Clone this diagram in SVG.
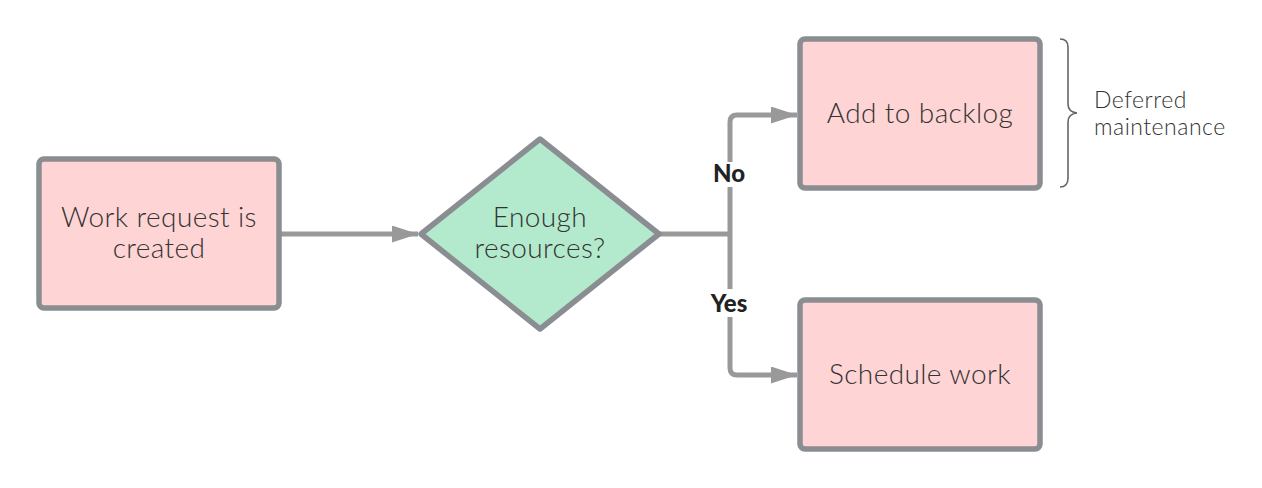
<svg xmlns="http://www.w3.org/2000/svg" width="1262" height="488" viewBox="0 0 1262 488">
<style>
.box{fill:#ffd4d5;stroke:#8a8d91;stroke-width:5.5}
.dia{fill:#b3eacd;stroke:#8a8d91;stroke-width:5.5;stroke-linejoin:round}
.t{font-family:Lato,"Noto Sans",sans-serif;font-weight:300;font-size:28px;letter-spacing:0.4px;fill:#333;text-anchor:middle}
.c{fill:none;stroke:#999;stroke-width:5}
.lb{font-family:Lato,"Noto Sans",sans-serif;font-weight:900;font-size:24px;fill:#222;text-anchor:middle}
.note{font-family:Lato,"Noto Sans",sans-serif;font-weight:300;font-size:23px;letter-spacing:0.5px;fill:#333}
</style>
<defs>
<marker id="ah" markerUnits="userSpaceOnUse" markerWidth="26" markerHeight="17" refX="26" refY="8.5" orient="auto">
<path d="M0 0 L26 8.5 L0 17 Z" fill="#999"/>
</marker>
</defs>
<rect width="1262" height="488" fill="#fff"/>
<g id="connectors">
<path class="c" d="M281 234 H418" marker-end="url(#ah)"/>
<path class="c" d="M659 234 H730"/>
<path class="c" d="M730 234 V122 Q730 115 737 115 H797" marker-end="url(#ah)"/>
<path class="c" d="M730 234 V368 Q730 375 737 375 H797" marker-end="url(#ah)"/>
<rect x="706" y="162" width="46" height="25" fill="#fff"/>
<text class="lb" x="729" y="182">No</text>
<rect x="703" y="289" width="52" height="28" fill="#fff"/>
<text class="lb" x="729" y="312">Yes</text>
</g>
<g id="n1">
<rect class="box" x="39" y="159" width="240" height="149" rx="5"/>
<text class="t" x="159" y="227">Work request is</text>
<text class="t" x="159" y="258">created</text>
</g>
<g id="n2">
<polygon class="dia" points="540,139 659,234 540,329 421,234"/>
<text class="t" x="540" y="227">Enough</text>
<text class="t" x="540" y="258">resources?</text>
</g>
<g id="n3">
<rect class="box" x="800" y="39" width="240" height="149" rx="5"/>
<text class="t" x="920" y="123">Add to backlog</text>
</g>
<g id="n4">
<rect class="box" x="800" y="300" width="240" height="149" rx="5"/>
<text class="t" x="920" y="384">Schedule work</text>
</g>
<g id="note">
<path d="M1060 39 Q1068 39 1068 47 V104 Q1068 112 1077 113 Q1068 114 1068 122 V178 Q1068 187 1060 187" fill="none" stroke="#666" stroke-width="1.6"/>
<text class="note" x="1094" y="108">Deferred</text>
<text class="note" x="1094" y="135">maintenance</text>
</g>
</svg>
